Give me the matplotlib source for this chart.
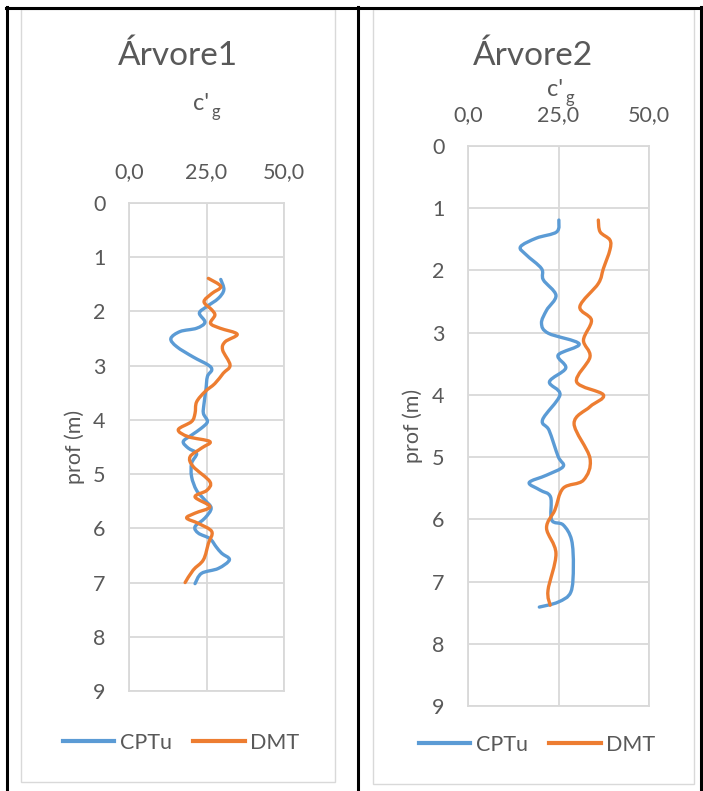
import numpy as np
import matplotlib
matplotlib.use("Agg")
import matplotlib.pyplot as plt
from matplotlib.path import Path
from matplotlib.patches import PathPatch, Rectangle
from matplotlib.lines import Line2D

plt.rcParams['font.family'] = ['Lato', 'DejaVu Sans']

# ---------------- data ----------------
titles = ["Árvore1", "Árvore2"]
series_names = ["CPTu", "DMT"]
x_ticks = [0, 25, 50]
x_tick_labels = ["0,0", "25,0", "50,0"]
y_ticks = list(range(10))
y_label = "prof (m)"

# Árvore1
a1_cptu_depth = [1.41, 1.60, 1.76, 1.91, 2.03, 2.20, 2.31, 2.37, 2.50, 2.65, 2.84, 2.99,
                 3.08, 3.20, 3.45, 3.70, 3.88, 4.03, 4.15, 4.28, 4.40, 4.52, 4.62, 4.80,
                 5.05, 5.30, 5.48, 5.63, 5.81, 5.97, 6.09, 6.19, 6.34, 6.46, 6.58, 6.74,
                 6.83, 7.02]
a1_cptu_cg = [29.6, 30.6, 28.8, 25.1, 22.7, 24.5, 21.8, 16.5, 13.5, 15.4, 20.7, 25.6,
              26.7, 25.3, 24.8, 24.2, 24.0, 25.3, 23.4, 20.2, 17.5, 19.1, 21.8, 20.2,
              20.2, 21.8, 24.5, 26.5, 24.5, 21.3, 22.4, 26.1, 28.1, 29.9, 32.4, 28.8,
              23.4, 21.3]
a1_dmt_depth = [1.39, 1.54, 1.67, 1.82, 1.97, 2.07, 2.22, 2.31, 2.42, 2.56, 2.71, 2.99,
                3.14, 3.33, 3.48, 3.67, 3.88, 4.03, 4.18, 4.31, 4.40, 4.52, 4.68, 4.86,
                5.14, 5.30, 5.42, 5.60, 5.72, 5.81, 5.91, 6.06, 6.28, 6.58, 6.77, 7.00]
a1_dmt_cg = [25.6, 29.6, 26.7, 24.2, 26.7, 27.7, 26.3, 29.4, 34.9, 31.0, 30.2, 32.6,
             30.4, 27.7, 24.5, 21.8, 21.3, 20.2, 15.9, 19.1, 26.1, 23.4, 19.7, 20.7,
             26.1, 25.1, 21.3, 26.1, 21.3, 18.6, 22.4, 26.7, 25.6, 24.0, 20.7, 18.1]

# Árvore2
a2_cptu_depth = [1.19, 1.38, 1.48, 1.62, 1.75, 1.97, 2.15, 2.40, 2.64, 2.85, 3.01, 3.18,
                 3.36, 3.57, 3.79, 4.00, 4.40, 4.57, 4.99, 5.15, 5.29, 5.41, 5.53, 5.64,
                 6.01, 6.09, 6.33, 6.76, 7.17, 7.33, 7.41]
a2_cptu_cg = [25.1, 24.5, 18.9, 14.5, 16.1, 20.3, 20.8, 24.3, 21.7, 20.3, 22.2, 30.7,
              24.9, 27.0, 22.5, 25.4, 20.6, 22.4, 24.9, 26.3, 21.7, 16.9, 19.9, 22.8,
              23.1, 26.3, 28.6, 29.1, 28.4, 24.9, 19.7]
a2_dmt_depth = [1.19, 1.38, 1.51, 1.67, 1.97, 2.21, 2.58, 2.80, 3.12, 3.39, 3.79, 4.00,
                4.19, 4.46, 5.02, 5.37, 5.50, 5.85, 6.14, 6.55, 7.14, 7.38]
a2_dmt_cg = [36.0, 36.5, 39.2, 39.2, 37.4, 36.0, 30.9, 34.1, 31.9, 33.7, 30.0, 37.4,
             33.7, 29.3, 33.7, 31.9, 26.3, 24.0, 21.7, 24.3, 22.1, 22.7]

# ---------------- style ----------------
W, H = 703, 791
BLUE = "#5B9BD5"
ORANGE = "#ED7D31"
GRID = "#D9D9D9"
TEXT = "#595959"

fig = plt.figure(figsize=(W / 100, H / 100), dpi=100)
fig.patch.set_facecolor("white")


def fx(x):
    return x / W


def fy(y):
    return 1 - y / H


def smooth_curve(ax, x, y, color):
    """Catmull-Rom smoothed line drawn as cubic Bezier segments."""
    pts = np.column_stack([x, y]).astype(float)
    n = len(pts)
    verts = [pts[0]]
    codes = [Path.MOVETO]
    for i in range(n - 1):
        p0 = pts[i - 1] if i > 0 else pts[i]
        p1 = pts[i]
        p2 = pts[i + 1]
        p3 = pts[i + 2] if i + 2 < n else pts[i + 1]
        c1 = p1 + (p2 - p0) / 6.0
        c2 = p2 - (p3 - p1) / 6.0
        verts += [c1, c2, p2]
        codes += [Path.CURVE4] * 3
    patch = PathPatch(Path(verts, codes), facecolor="none", edgecolor=color,
                      lw=2.4, capstyle="round", joinstyle="round", zorder=3)
    ax.add_patch(patch)


panels = [
    dict(box=(21, 9, 335, 782), ax=(129, 203, 284, 691), title_y=65,
         cg=(209, 110), ylab_x=75, legend=(181, 743),
         series=[(a1_cptu_cg, a1_cptu_depth), (a1_dmt_cg, a1_dmt_depth)]),
    dict(box=(373, 9, 694, 784), ax=(468, 146, 649, 706), title_y=65,
         cg=(563, 96), ylab_x=413, legend=(537, 745),
         series=[(a2_cptu_cg, a2_cptu_depth), (a2_dmt_cg, a2_dmt_depth)]),
]

for k, p in enumerate(panels):
    bl, bt, br, bb = p["box"]
    fig.add_artist(Rectangle((fx(bl), fy(bb)), fx(br) - fx(bl), fy(bt) - fy(bb),
                             transform=fig.transFigure, fill=False,
                             edgecolor=GRID, lw=1.0, zorder=0))
    l, t, r, b = p["ax"]
    ax = fig.add_axes([fx(l), fy(b), fx(r) - fx(l), fy(t) - fy(b)])
    ax.set_xlim(0, 50)
    ax.set_ylim(9, 0)
    ax.set_xticks(x_ticks)
    ax.set_xticklabels(x_tick_labels)
    ax.set_yticks(y_ticks)
    ax.set_yticklabels([str(v) for v in y_ticks])
    ax.xaxis.tick_top()
    ax.tick_params(axis="both", length=0, labelsize=15.5, labelcolor=TEXT)
    ax.tick_params(axis="x", pad=15)
    ax.tick_params(axis="y", pad=17)
    ax.grid(True, color=GRID, lw=1.3)
    ax.set_axisbelow(True)
    for s in ax.spines.values():
        s.set_color(GRID)
        s.set_linewidth(1.3)

    colors = [BLUE, ORANGE]
    for (cg, depth), c in zip(p["series"], colors):
        smooth_curve(ax, cg, depth, c)

    cx = (bl + br) / 2
    fig.text(fx(cx), fy(p["title_y"]), titles[k], ha="center", va="baseline",
             fontsize=24, color=TEXT)
    gx, gy = p["cg"]
    fig.text(fx(gx), fy(gy), "c'", ha="right", va="baseline", fontsize=17, color=TEXT)
    fig.text(fx(gx + 3), fy(gy + 7), "g", ha="left", va="baseline", fontsize=12, color=TEXT)
    fig.text(fx(p["ylab_x"]), fy((t + b) / 2), y_label, rotation=90, ha="center",
             va="center", fontsize=15.5, color=TEXT)

    handles = [Line2D([], [], color=c, lw=3) for c in colors]
    lx, ly = p["legend"]
    fig.legend(handles, series_names, loc="center",
               bbox_to_anchor=(fx(lx), fy(ly)), bbox_transform=fig.transFigure,
               ncol=2, frameon=False, fontsize=15.5, labelcolor=TEXT,
               handlelength=2.4, handletextpad=0.25, columnspacing=1.0)

# table borders
for x in (7, 358, 701):
    fig.add_artist(Line2D([fx(x), fx(x)], [fy(7), 0], transform=fig.transFigure,
                          color="black", lw=2.2))
fig.add_artist(Line2D([fx(6), fx(702)], [fy(8), fy(8)], transform=fig.transFigure,
                      color="black", lw=2.2))

fig.savefig("out.png", dpi=100)
